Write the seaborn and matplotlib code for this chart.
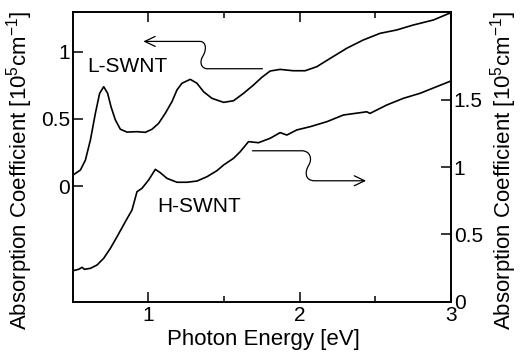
import numpy as np
import pandas as pd
import matplotlib
matplotlib.use("Agg")
import matplotlib.pyplot as plt
import seaborn as sns
from matplotlib.path import Path
from matplotlib.patches import FancyArrowPatch

# L-SWNT (left axis)
l_energy = [0.503, 0.551, 0.584, 0.617, 0.650, 0.678, 0.705, 0.731, 0.753, 0.782,
            0.815, 0.859, 0.925, 0.980, 1.024, 1.068, 1.112, 1.156, 1.189, 1.222,
            1.277, 1.321, 1.365, 1.420, 1.497, 1.563, 1.629, 1.695, 1.750, 1.805,
            1.871, 1.957, 2.036, 2.113, 2.202, 2.311, 2.421, 2.531, 2.641, 2.751,
            2.883, 3.0]
l_abs = [0.082, 0.119, 0.193, 0.342, 0.541, 0.689, 0.738, 0.689, 0.590, 0.491,
         0.422, 0.401, 0.404, 0.399, 0.422, 0.466, 0.541, 0.627, 0.714, 0.764,
         0.793, 0.764, 0.701, 0.652, 0.622, 0.634, 0.689, 0.751, 0.808, 0.855,
         0.867, 0.857, 0.857, 0.887, 0.949, 1.024, 1.086, 1.135, 1.160, 1.197,
         1.234, 1.289]

# H-SWNT (right axis)
h_energy = [0.500, 0.540, 0.562, 0.577, 0.617, 0.661, 0.705, 0.749, 0.793, 0.848,
            0.892, 0.925, 0.958, 1.002, 1.046, 1.079, 1.123, 1.189, 1.255, 1.321,
            1.387, 1.453, 1.497, 1.563, 1.607, 1.662, 1.728, 1.805, 1.871, 1.915,
            1.981, 2.069, 2.179, 2.289, 2.399, 2.443, 2.465, 2.575, 2.685, 2.795,
            2.906, 3.0]
h_abs = [0.230, 0.241, 0.256, 0.241, 0.248, 0.273, 0.323, 0.397, 0.483, 0.595,
         0.682, 0.818, 0.843, 0.905, 0.984, 0.959, 0.917, 0.888, 0.888, 0.897,
         0.929, 0.974, 1.016, 1.066, 1.115, 1.190, 1.182, 1.215, 1.257, 1.239,
         1.277, 1.301, 1.338, 1.388, 1.405, 1.412, 1.400, 1.462, 1.512, 1.549,
         1.599, 1.641]

left_ticks = [0, 0.5, 1]
left_ticklabels = ["0", "0.5", "1"]
right_ticks = [0, 0.5, 1, 1.5]
right_ticklabels = ["0", "0.5", "1", "1.5"]
x_ticks = [1, 2, 3]
x_ticklabels = ["1", "2", "3"]

sns.set_theme(style="ticks")
plt.rcParams['font.family'] = ['Liberation Sans', 'DejaVu Sans']
plt.rcParams['mathtext.fontset'] = 'custom'
plt.rcParams['mathtext.rm'] = 'Liberation Sans'
plt.rcParams['mathtext.it'] = 'Liberation Sans'
plt.rcParams['text.color'] = 'black'
plt.rcParams['axes.labelcolor'] = 'black'
plt.rcParams['xtick.color'] = 'black'
plt.rcParams['ytick.color'] = 'black'

FS = 15
LFS = 16
fig = plt.figure(figsize=(5.2, 3.53), dpi=100)
ax = fig.add_axes([0.1398, 0.1453, 0.7275, 0.8216])
ax2 = ax.twinx()

sns.lineplot(x=l_energy, y=l_abs, ax=ax, color="black", lw=1.2, sort=False)
sns.lineplot(x=h_energy, y=h_abs, ax=ax2, color="black", lw=1.2, sort=False)

ax.set_xlim(0.5, 3.0)
ax.set_ylim(-0.86, 1.296)
ax2.set_ylim(0.0, 2.156)

ax.set_xticks(x_ticks)
ax.set_xticklabels(x_ticklabels, fontsize=FS)
ax.set_xticks([1.5, 2.5], minor=True)
ax.set_yticks(left_ticks)
ax.set_yticklabels(left_ticklabels, fontsize=FS)
ax2.set_yticks(right_ticks)
ax2.set_yticklabels(right_ticklabels, fontsize=FS)

ax.tick_params(axis='x', which='major', direction='in', length=7, width=1.1,
               top=True, bottom=True, pad=3, colors='black')
ax.tick_params(axis='x', which='minor', direction='in', length=4.5, width=1.1,
               top=True, bottom=True)
ax.tick_params(axis='y', which='major', direction='in', length=7, width=1.1,
               left=True, right=False, pad=2, colors='black')
ax2.tick_params(axis='y', which='major', direction='in', length=7, width=1.1,
                left=False, right=True, pad=2, colors='black')

for a in (ax, ax2):
    for s in a.spines.values():
        s.set_linewidth(1.2)
        s.set_color("black")

ylab = "Absorption Coefficient [10$^5$cm$^{-1}$]"
ax.set_xlabel("Photon Energy [eV]", fontsize=LFS)
ax.set_ylabel(ylab, fontsize=LFS)
ax2.set_ylabel(ylab, fontsize=LFS, rotation=90)
ax.xaxis.set_label_coords(0.503, -0.094)
ax.yaxis.set_label_coords(-0.100, 0.451)
ax2.yaxis.set_label_coords(1.098, 0.451)

ax.text(0.595, 0.887, "L-SWNT", fontsize=FS, ha='left', va='center')
ax.text(1.061, -0.149, "H-SWNT", fontsize=FS, ha='left', va='center')

codes = [Path.MOVETO, Path.LINETO,
         Path.CURVE4, Path.CURVE4, Path.CURVE4,
         Path.CURVE4, Path.CURVE4, Path.CURVE4,
         Path.LINETO]
astyle = '->,head_length=0.75,head_width=0.36'

# curly arrow pointing to left axis
verts = [(1.754, 0.872), (1.39, 0.872),
         (1.35, 0.872), (1.335, 0.92), (1.36, 0.965),
         (1.385, 1.01), (1.385, 1.075), (1.34, 1.075),
         (0.967, 1.075)]
ax.add_patch(FancyArrowPatch(path=Path(verts, codes), arrowstyle=astyle,
                             mutation_scale=10, color='black', lw=0.9, zorder=5))

# curly arrow pointing to right axis
verts2 = [(1.688, 0.262), (2.014, 0.262),
          (2.07, 0.262), (2.085, 0.20), (2.06, 0.155),
          (2.035, 0.11), (2.03, 0.039), (2.10, 0.039),
          (2.439, 0.039)]
ax.add_patch(FancyArrowPatch(path=Path(verts2, codes), arrowstyle=astyle,
                             mutation_scale=10, color='black', lw=0.9, zorder=5))

fig.savefig("out.png", dpi=100)
